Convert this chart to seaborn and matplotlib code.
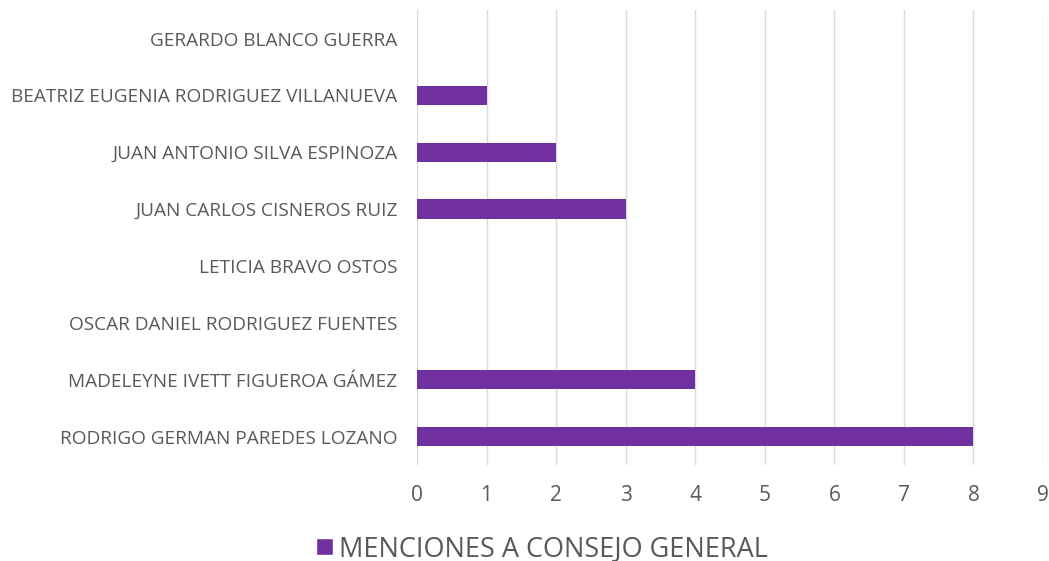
import matplotlib
matplotlib.use("Agg")
import matplotlib.pyplot as plt
import seaborn as sns
import pandas as pd
from matplotlib.patches import Patch

nombres = [
    "GERARDO BLANCO GUERRA",
    "BEATRIZ EUGENIA RODRIGUEZ VILLANUEVA",
    "JUAN ANTONIO SILVA ESPINOZA",
    "JUAN CARLOS CISNEROS RUIZ",
    "LETICIA BRAVO OSTOS",
    "OSCAR DANIEL RODRIGUEZ FUENTES",
    "MADELEYNE IVETT FIGUEROA GÁMEZ",
    "RODRIGO GERMAN PAREDES LOZANO",
]
menciones = [0, 1, 2, 3, 0, 0, 4, 8]
serie = "MENCIONES A CONSEJO GENERAL"
ticks_x = list(range(0, 10))

color_barra = "#7030A0"
color_texto = "#595959"

sns.set_theme(style="white")
plt.rcParams["font.family"] = ["Open Sans", "DejaVu Sans"]

df = pd.DataFrame({"nombre": nombres, "menciones": menciones})

fig = plt.figure(figsize=(10.49, 5.61), dpi=100)
ax = fig.add_axes([0.3975, 0.171, 0.5968, 0.811])

sns.barplot(data=df, y="nombre", x="menciones", orient="h",
            color=color_barra, width=0.34, saturation=1, linewidth=0, ax=ax)

ax.set_xlim(0, 9)
ax.set_xticks(ticks_x)
ax.set_xticklabels([str(t) for t in ticks_x])
ax.set_ylim(len(nombres) - 0.5, -0.5)
ax.xaxis.grid(True, color="#D9D9D9", linewidth=1)
ax.set_axisbelow(True)
for s in ax.spines.values():
    s.set_visible(False)
ax.set_xlabel("")
ax.set_ylabel("")
ax.tick_params(axis="y", length=0, pad=14, labelsize=13.7, labelcolor=color_texto)
ax.tick_params(axis="x", length=0, pad=14, labelsize=15, labelcolor=color_texto)

fig.legend(handles=[Patch(facecolor=color_barra, label=serie)],
           loc="center", bbox_to_anchor=(0.517, 0.022), frameon=False,
           fontsize=19.5, labelcolor=color_texto, handlelength=0.6,
           handleheight=0.6, handletextpad=0.25)

fig.savefig("out.png", dpi=100)
